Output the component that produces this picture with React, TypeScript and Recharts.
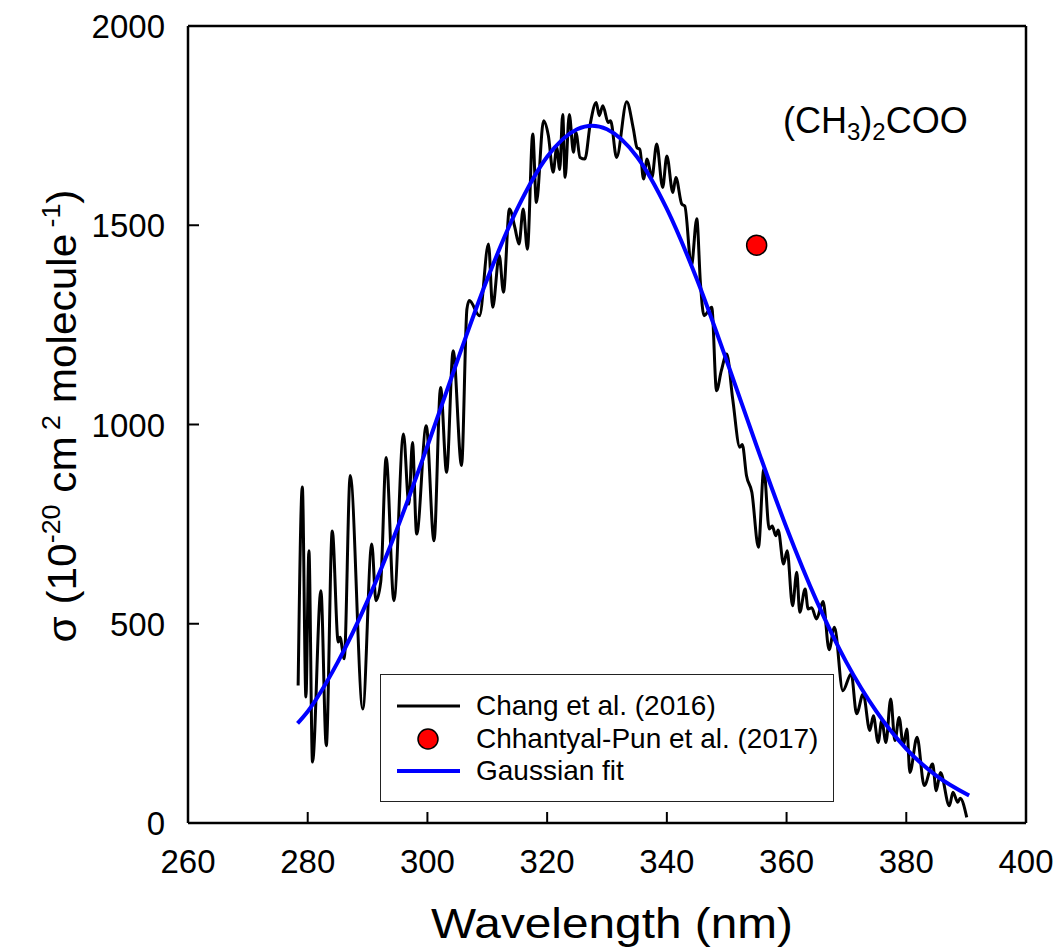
import React from "react";
import {
  ComposedChart,
  Line,
  Scatter,
  XAxis,
  YAxis,
  ReferenceLine,
  Legend,
} from "recharts";

const FONT = "'Liberation Sans', Arial, Helvetica, sans-serif";

// Chang et al. (2016) spectrum
const changNm = [
  278.4, 279.1, 279.7, 280.2, 280.8, 282.2, 283.1, 284.1, 285.1, 285.4, 286.1, 287.1,
  289.2, 290.7, 291.4, 292.2, 293.1, 294.4, 296.0, 296.9, 297.5, 298.2, 299.8, 301.1,
  302.2, 303.2, 304.3, 305.7, 306.6, 307.0, 308.7, 310.2, 310.9, 312.0, 312.7, 313.7,
  314.6, 315.3, 316.0, 316.7, 317.6, 318.2, 319.4, 320.2, 321.0, 321.6, 322.1, 322.6,
  323.0, 323.7, 324.4, 324.8, 325.5, 326.3, 327.2, 328.2, 328.7, 329.3, 330.2, 330.6,
  331.6, 333.3, 334.4, 335.0, 335.5, 336.1, 336.7, 337.5, 338.3, 339.3, 340.0, 341.0,
  341.5, 342.5, 343.0, 344.1, 345.0, 345.6, 346.2, 347.5, 348.3, 349.1, 350.0, 351.0,
  352.2, 352.6, 353.3, 354.2, 355.3, 356.2, 357.1, 357.6, 358.2, 358.6, 359.5, 360.1,
  361.0, 361.7, 362.2, 363.1, 363.6, 364.2, 365.0, 366.1, 367.1, 368.0, 369.4, 370.8,
  371.7, 372.8, 373.9, 374.5, 375.3, 375.9, 376.6, 377.4, 378.1, 378.8, 379.5, 380.1,
  380.6, 381.8, 383.0, 384.4, 385.0, 385.7, 387.2, 387.8, 388.6, 389.0, 390.1,
];
const changSigma = [
  345, 843, 316, 683, 153, 583, 194, 733, 454, 466, 412, 872,
  286, 700, 558, 605, 917, 558, 976, 800, 955, 725, 997, 708,
  1093, 880, 1185, 897, 1290, 1311, 1273, 1453, 1294, 1424, 1332, 1541,
  1495, 1453, 1541, 1440, 1729, 1557, 1762, 1725, 1633, 1695, 1640, 1778,
  1620, 1778, 1683, 1733, 1670, 1666, 1754, 1808, 1775, 1800, 1758, 1762,
  1670, 1810, 1742, 1695, 1690, 1616, 1666, 1620, 1704, 1595, 1674, 1582,
  1620, 1553, 1548, 1398, 1516, 1357, 1273, 1294, 1085, 1135, 1177, 1064,
  943, 950, 872, 830, 692, 888, 738, 745, 721, 735, 650, 683,
  545, 629, 529, 587, 537, 540, 512, 556, 435, 491, 332, 374,
  274, 324, 232, 269, 202, 257, 202, 311, 207, 265, 194, 236,
  127, 215, 94, 148, 81, 127, 43, 77, 52, 62, 14,
];

// Gaussian fit curve
const fitNm = [
  278.3, 280, 285, 290, 295, 300, 305, 310, 315, 320, 325, 327.5,
  330, 335, 340, 345, 350, 355, 360, 365, 370, 375, 380, 385, 390.5,
];
const fitSigma = [
  250, 280, 403, 558, 741, 946, 1160, 1365, 1541, 1672, 1741, 1750,
  1741, 1672, 1541, 1365, 1160, 946, 741, 558, 403, 280, 186, 119, 69,
];

// Chhantyal-Pun et al. (2017)
const punNm = [355];
const punSigma = [1450];

const xTicks = [260, 280, 300, 320, 340, 360, 380, 400];
const yTicks = [0, 500, 1000, 1500, 2000];

const changData = changNm.map((x, i) => ({ x, y: changSigma[i] }));
const fitData = fitNm.map((x, i) => ({ x, y: fitSigma[i] }));
const punData = punNm.map((x, i) => ({ x, y: punSigma[i] }));

const XTick = (props: any) => {
  const { x, y, payload } = props;
  return (
    <g>
      <line x1={x} y1={y} x2={x} y2={y - 11} stroke="#000" strokeWidth={2} />
      <text x={x} y={y + 50} textAnchor="middle" fontSize={33} fontFamily={FONT} fill="#000">
        {payload.value}
      </text>
    </g>
  );
};

const YTick = (props: any) => {
  const { x, y, payload } = props;
  return (
    <g>
      <line x1={x} y1={y} x2={x + 11} y2={y} stroke="#000" strokeWidth={2} />
      <text x={x - 23} y={y + 12} textAnchor="end" fontSize={33} fontFamily={FONT} fill="#000">
        {payload.value}
      </text>
    </g>
  );
};

const XTitle = () => (
  <text
    x={612}
    y={938}
    textAnchor="middle"
    fontSize={42}
    fontFamily={FONT}
    fill="#000"
    textLength={362}
    lengthAdjust="spacingAndGlyphs"
  >
    Wavelength (nm)
  </text>
);

const YTitle = () => (
  <text
    x={76}
    y={416}
    transform="rotate(-90, 76, 416)"
    textAnchor="middle"
    fontSize={41}
    fontFamily={FONT}
    fill="#000"
    textLength={453}
    lengthAdjust="spacingAndGlyphs"
  >
    σ (10
    <tspan dy={-16} fontSize={26}>-20</tspan>
    <tspan dy={16}> cm</tspan>
    <tspan dy={-16} dx={6} fontSize={26}>2</tspan>
    <tspan dy={16}> molecule</tspan>
    <tspan dy={-16} dx={6} fontSize={26}>-1</tspan>
    <tspan dy={16}>)</tspan>
  </text>
);

const legendRows = [
  { label: "Chang et al. (2016)", kind: "line", color: "#000" },
  { label: "Chhantyal-Pun et al. (2017)", kind: "dot", color: "#ff0000" },
  { label: "Gaussian fit", kind: "line", color: "#0000ff" },
];

const LegendBox = () => (
  <div
    style={{
      width: 452,
      height: 126,
      border: "1.5px solid #222",
      background: "#fff",
      position: "relative",
      fontFamily: FONT,
    }}
  >
    {legendRows.map((r, i) => (
      <div
        key={r.label}
        style={{ position: "absolute", left: 0, top: 31 + i * 32.5 - 16, height: 32, width: 452 }}
      >
        <svg width={80} height={32} style={{ position: "absolute", left: 16, top: 0 }}>
          {r.kind === "line" ? (
            <line
              x1={0}
              y1={16}
              x2={63}
              y2={16}
              stroke={r.color}
              strokeWidth={r.color === "#000" ? 3 : 4}
            />
          ) : (
            <circle cx={31} cy={16} r={10} fill={r.color} stroke="#000" strokeWidth={1.5} />
          )}
        </svg>
        <span
          style={{
            position: "absolute",
            left: 95,
            top: 0,
            lineHeight: "32px",
            fontSize: 28,
            color: "#000",
            whiteSpace: "nowrap",
          }}
        >
          {r.label}
        </span>
      </div>
    ))}
  </div>
);

export default function App() {
  return (
    <div style={{ position: "absolute", left: 0, top: 0, width: 1059, height: 951, background: "#fff" }}>
      <ComposedChart
        width={1059}
        height={951}
        margin={{ top: 26, right: 33, bottom: 68, left: 98 }}
      >
        <XAxis
          type="number"
          dataKey="x"
          domain={[260, 400]}
          ticks={xTicks}
          interval={0}
          height={60}
          tickLine={false}
          tickSize={0}
          tickMargin={0}
          tick={<XTick />}
          axisLine={{ stroke: "#000", strokeWidth: 2.5 }}
          allowDataOverflow
          label={{ content: <XTitle /> }}
        />
        <YAxis
          type="number"
          dataKey="y"
          domain={[0, 2000]}
          ticks={yTicks}
          interval={0}
          width={90}
          tickLine={false}
          tickSize={0}
          tickMargin={0}
          tick={<YTick />}
          axisLine={{ stroke: "#000", strokeWidth: 2.5 }}
          allowDataOverflow
          label={{ content: <YTitle /> }}
        />
        <ReferenceLine y={2000} stroke="#000" strokeWidth={2.5} />
        <ReferenceLine x={400} stroke="#000" strokeWidth={2.5} />
        <Legend
          verticalAlign="middle"
          layout="horizontal"
          content={<LegendBox />}
          wrapperStyle={{ position: "absolute", left: 380, top: 674, width: 455, height: 129 }}
        />
        <Line
          data={changData}
          dataKey="y"
          type="monotone"
          stroke="#000"
          strokeWidth={3}
          dot={false}
          activeDot={false}
          isAnimationActive={false}
          legendType="none"
        />
        <Line
          data={fitData}
          dataKey="y"
          type="monotone"
          stroke="#0000ff"
          strokeWidth={4}
          dot={false}
          activeDot={false}
          isAnimationActive={false}
        />
        <Scatter
          data={punData}
          dataKey="y"
          isAnimationActive={false}
          shape={(p: any) => (
            <circle cx={p.cx} cy={p.cy} r={10} fill="#ff0000" stroke="#000" strokeWidth={1.5} />
          )}
        />
      </ComposedChart>
      <svg
        width={300}
        height={80}
        style={{ position: "absolute", left: 760, top: 80, overflow: "visible" }}
      >
        <text x={23} y={53} fontSize={36} fontFamily={FONT} fill="#000">
          (CH
          <tspan dy={7} fontSize={24}>3</tspan>
          <tspan dy={-7}>)</tspan>
          <tspan dy={7} fontSize={24}>2</tspan>
          <tspan dy={-7}>COO</tspan>
        </text>
      </svg>
    </div>
  );
}
